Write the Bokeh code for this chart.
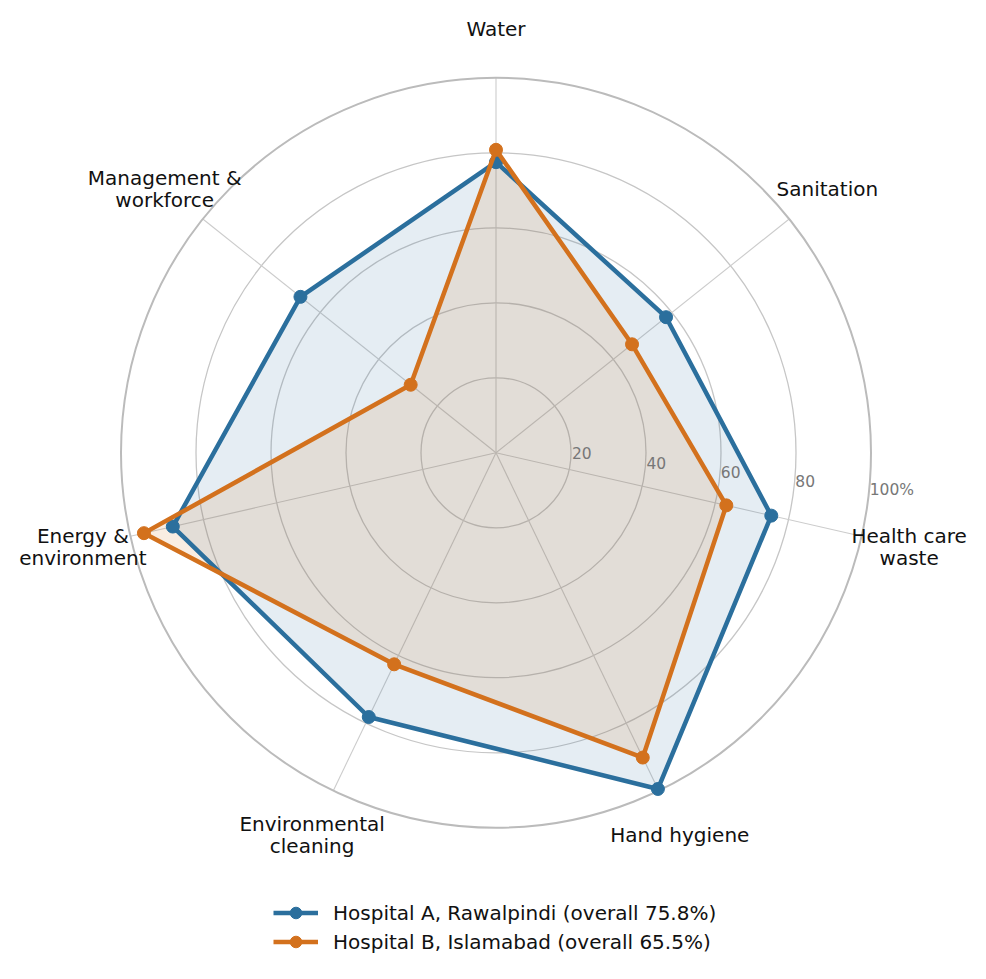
import numpy as np
from bokeh.plotting import figure
from bokeh.models import Legend, LegendItem, Range1d
from bokeh.embed import file_html
from bokeh.resources import INLINE
from bokeh.core.properties import value

# ---- data ----
categories = ["Water", "Sanitation", "Health care\nwaste", "Hand hygiene",
              "Environmental\ncleaning", "Energy &\nenvironment", "Management &\nworkforce"]
hospital_a = [77.5, 58.0, 75.3, 99.5, 78.2, 88.4, 66.7]
hospital_b = [80.8, 46.4, 63.0, 90.2, 62.6, 96.3, 29.1]
series_names = ["Hospital A, Rawalpindi (overall 75.8%)",
                "Hospital B, Islamabad (overall 65.5%)"]
series_colors = ["#2b6f9d", "#d3711d"]
grid_levels = [20, 40, 60, 80, 100]
grid_labels = ["20", "40", "60", "80", "100%"]

FONT = "DejaVu Sans"
n = len(categories)
theta = np.deg2rad(90 - np.arange(n) * 360.0 / n)

W, H = 980, 972
scale = 3.75  # px per percent
cx, cy = 495.5, 452.3
p = figure(width=W, height=H,
           x_range=Range1d(-cx / scale, (W - cx) / scale),
           y_range=Range1d(-(H - cy) / scale, cy / scale),
           x_axis_type=None, y_axis_type=None, toolbar_location=None,
           output_backend="svg", min_border=0, outline_line_color=None)
p.background_fill_color = "white"

# grid circles
inner = grid_levels[:-1]
p.circle(x=[0] * len(inner), y=[0] * len(inner), radius=inner,
         fill_color=None, line_color="#c6c6c6", line_width=1.3)
# spokes
for t in theta:
    p.line([0, grid_levels[-1] * np.cos(t)], [0, grid_levels[-1] * np.sin(t)],
           line_color="#cccccc", line_width=1.1)

def poly(vals):
    v = np.array(vals)
    return v * np.cos(theta), v * np.sin(theta)

xa, ya = poly(hospital_a)
xb, yb = poly(hospital_b)
p.patch(xa, ya, fill_color=series_colors[0], fill_alpha=0.12, line_color=None)
p.patch(xb, yb, fill_color=series_colors[1], fill_alpha=0.13, line_color=None)

# outer circle
p.circle(x=[0], y=[0], radius=[grid_levels[-1]], fill_color=None,
         line_color="#bbbbbb", line_width=2)

renderers = []
for (xs, ys), col in [((xa, ya), series_colors[0]), ((xb, yb), series_colors[1])]:
    lr = p.line(np.append(xs, xs[0]), np.append(ys, ys[0]), line_color=col,
                line_width=4.5, line_join="round")
    sr = p.scatter(xs, ys, size=13, fill_color=col, line_color=col, marker="circle")
    renderers.append((lr, sr))

# radial tick labels
ang = np.deg2rad(-7)
lv = np.array(grid_levels, dtype=float)
p.text(x=lv * np.cos(ang), y=lv * np.sin(ang), text=grid_labels,
       text_font=value(FONT), text_font_size="15.5px", text_color="#777777",
       text_align="left", text_baseline="middle", x_offset=1.5, y_offset=-8.5)

# category labels
lab_r = 113.0
p.text(x=lab_r * np.cos(theta), y=lab_r * np.sin(theta), text=categories,
       text_font=value(FONT), text_font_size="20px", text_color="#111111",
       text_align="center", text_baseline="middle", text_line_height=0.92)

legend = Legend(items=[LegendItem(label=series_names[i], renderers=list(renderers[i]))
                       for i in range(2)],
                location=(273, H - 956.2), orientation="vertical",
                glyph_width=45, glyph_height=29, label_height=29,
                label_standoff=15, spacing=0, padding=0, margin=0,
                border_line_alpha=0, background_fill_alpha=0,
                label_text_font=FONT, label_text_font_size="20px",
                label_text_color="#111111")
p.add_layout(legend)

open("out.html", "w").write(file_html(p, INLINE))
